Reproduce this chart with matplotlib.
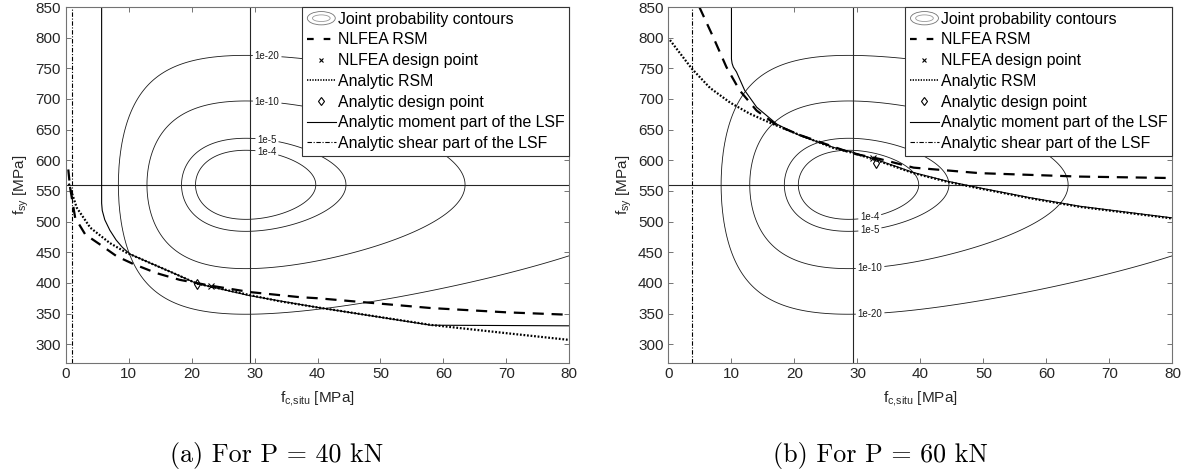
import matplotlib
matplotlib.use("Agg")
import matplotlib.pyplot as plt
import numpy as np
from matplotlib.legend_handler import HandlerBase
from matplotlib.lines import Line2D
from matplotlib.patches import Ellipse

plt.rcParams["font.family"] = ["Liberation Sans", "DejaVu Sans"]

# axis ticks
FC_TICKS = list(range(0, 81, 10))
FSY_TICKS = list(range(300, 851, 50))

# joint distribution of (f_c,situ, f_sy): lognormal x normal
FC_LOG_MEAN = 3.373
FC_LOG_STD = 0.138
FSY_MEAN = 560.0
FSY_STD = 23.7
FC_REF_LINE = 29.3
CONTOUR_LEVELS = [1e-20, 1e-10, 1e-5, 1e-4]
CONTOUR_TEXT = ["1e-20", "1e-10", "1e-5", "1e-4"]

# ---- (a) P = 40 kN
A_NLFEA_FC = [0.4, 0.7, 1.5, 3.1, 5.45, 8.1, 10.7, 14.4, 18.1, 23.0, 29.3, 37.2, 40, 58, 70, 80]
A_NLFEA_FSY = [585, 555, 506, 479, 462.6, 443.4, 431, 416, 405, 395.5, 385, 376.7, 375, 359, 352, 348]
A_ANA_FC = [0.5, 0.7, 1.75, 3.9, 7.0, 9.7, 13.4, 17.1, 20.8, 29.3, 34, 40, 58, 70, 80]
A_ANA_FSY = [562, 555, 522.6, 490, 465, 449, 432.5, 416, 399, 380, 370, 360, 331.5, 318, 307]
A_MOM_FC = [5.7, 5.7, 5.8, 6.2, 7.0, 8.0, 9.0, 10.2, 13.4, 17.1, 20.8, 29.3, 40, 58, 80]
A_MOM_FSY = [850, 530, 518, 503, 486, 470, 458, 447, 432.5, 416, 399, 379, 360, 331, 330]
A_SHEAR_FC = 1.05
A_NLFEA_DP = (23.0, 395.5)
A_ANA_DP = (20.8, 399)
A_LABEL_POS = [(32, 770), (32, 695), (32, 635), (32, 615)]

# ---- (b) P = 60 kN
B_NLFEA_FC = [4.9, 7.1, 9.2, 11.3, 14.0, 17.2, 20.9, 26.2, 29.3, 33.6, 38.9, 49.4, 65.3, 80]
B_NLFEA_FSY = [850, 801, 752, 714, 681, 657, 641, 622, 611, 602, 588, 579, 573.4, 571]
B_ANA_FC = [0.24, 3.7, 6.6, 9.8, 12.9, 16.6, 20.9, 26.2, 29.3, 33.6, 38.9, 44.2, 49.4, 57.4, 65.3, 80]
B_ANA_FSY = [796, 749.5, 718, 694, 676, 659, 641, 620, 612, 598, 579, 565, 554, 538, 524, 505]
B_MOM_FC = [10.0, 10.0, 10.1, 10.3, 10.8, 12.1, 14.0, 17.2, 20.9, 26.2, 29.3, 33.6, 38.9, 44.2, 49.4, 57.4, 65.3, 80]
B_MOM_FSY = [850, 765, 758, 752, 744, 714, 686.6, 659, 640, 621, 613, 599, 580, 566, 555, 539, 525, 506]
B_SHEAR_FC = 3.7
B_NLFEA_DP = (32.4, 604)
B_ANA_DP = (33.0, 595)
B_LABEL_POS = [(32, 352), (32, 425), (32, 485), (32, 505)]

CAPTIONS = ["(a) For P = 40 kN", "(b) For P = 60 kN"]


class ContourKey:
    pass


class ContourHandler(HandlerBase):
    def create_artists(self, legend, orig_handle, xdescent, ydescent, width, height, fontsize, trans):
        cx = width / 2 - xdescent
        cy = height / 2 - ydescent
        outer = Ellipse((cx, cy), width * 0.98, height * 1.2, fill=False, lw=0.6, ec="0.45", transform=trans)
        inner = Ellipse((cx, cy), width * 0.62, height * 0.6, fill=False, lw=0.6, ec="0.6", transform=trans)
        return [outer, inner]


def joint_pdf(fc, fsy):
    p_fc = np.exp(-(np.log(fc) - FC_LOG_MEAN) ** 2 / (2 * FC_LOG_STD ** 2)) / (fc * FC_LOG_STD * np.sqrt(2 * np.pi))
    p_fsy = np.exp(-(fsy - FSY_MEAN) ** 2 / (2 * FSY_STD ** 2)) / (FSY_STD * np.sqrt(2 * np.pi))
    return p_fc * p_fsy


def draw_panel(ax, nlfea, ana, mom, shear_fc, nlfea_dp, ana_dp, label_pos):
    fc = np.linspace(0.2, 80, 700)
    fsy = np.linspace(270, 850, 700)
    FC, FSY = np.meshgrid(fc, fsy)
    cs = ax.contour(FC, FSY, joint_pdf(FC, FSY), levels=CONTOUR_LEVELS, colors="0.1", linewidths=0.6)
    texts = ax.clabel(cs, fmt=dict(zip(CONTOUR_LEVELS, CONTOUR_TEXT)), manual=label_pos, inline=True,
                      inline_spacing=2, fontsize=7)
    for t in texts:
        t.set_rotation(0)

    ax.axvline(FC_REF_LINE, color="0.15", lw=0.8)
    ax.axhline(FSY_MEAN, color="0.15", lw=0.8)

    ax.plot(*nlfea, color="black", ls=(0, (5, 3.5)), lw=1.6)
    ax.plot(*nlfea_dp, ls="none", marker="x", ms=4, mew=0.8, color="black")
    ax.plot(*ana, color="black", ls=(0, (0.8, 0.8)), lw=1.6)
    ax.plot(*ana_dp, ls="none", marker="d", ms=5, mew=0.8, mfc="none", color="black")
    ax.plot(*mom, color="black", lw=0.8)
    ax.axvline(shear_fc, color="black", lw=0.8, ls=(0, (4, 1.5, 1, 1.5)))

    ax.set_xlim(0, 80)
    ax.set_ylim(270, 850)
    ax.set_xticks(FC_TICKS)
    ax.set_yticks(FSY_TICKS)
    ax.tick_params(direction="in", length=3.5, width=0.7, top=True, right=True,
                   colors="0.45", labelcolor="#262626", labelsize=11)
    for s in ax.spines.values():
        s.set_color("0.45")
        s.set_linewidth(0.8)
    ax.set_xlabel(r"f$_{\mathregular{c{,}situ}}$ [MPa]", fontsize=11, color="#262626", labelpad=6)
    ax.set_ylabel(r"f$_{\mathregular{sy}}$ [MPa]", fontsize=11, color="#262626", labelpad=3)

    handles = [
        ContourKey(),
        Line2D([], [], color="black", ls=(0, (3, 4.5)), lw=1.6),
        Line2D([], [], ls="none", marker="x", ms=3.5, mew=0.8, color="black"),
        Line2D([], [], color="black", ls=(0, (0.8, 0.8)), lw=1.2),
        Line2D([], [], ls="none", marker="d", ms=4.5, mew=0.8, mfc="none", color="black"),
        Line2D([], [], color="black", lw=0.8),
        Line2D([], [], color="black", lw=0.8, ls=(0, (4, 1.5, 1, 1.5))),
    ]
    labels = [
        "Joint probability contours",
        "NLFEA RSM",
        "NLFEA design point",
        "Analytic RSM",
        "Analytic design point",
        "Analytic moment part of the LSF",
        "Analytic shear part of the LSF",
    ]
    leg = ax.legend(handles, labels, handler_map={ContourKey: ContourHandler()}, loc="upper right",
                    borderaxespad=0, fontsize=11.4, labelspacing=0.36, handlelength=1.8,
                    handletextpad=0.15, borderpad=0.3, fancybox=False, framealpha=1, numpoints=1)
    leg.get_frame().set_edgecolor("0.2")
    leg.get_frame().set_linewidth(0.8)


def main():
    fig = plt.figure(figsize=(11.89, 4.73), dpi=100)
    ax_a = fig.add_axes([0.0553, 0.2334, 0.4235, 0.7518])
    ax_b = fig.add_axes([0.5622, 0.2334, 0.4239, 0.7518])

    draw_panel(ax_a, (A_NLFEA_FC, A_NLFEA_FSY), (A_ANA_FC, A_ANA_FSY), (A_MOM_FC, A_MOM_FSY),
               A_SHEAR_FC, A_NLFEA_DP, A_ANA_DP, A_LABEL_POS)
    draw_panel(ax_b, (B_NLFEA_FC, B_NLFEA_FSY), (B_ANA_FC, B_ANA_FSY), (B_MOM_FC, B_MOM_FSY),
               B_SHEAR_FC, B_NLFEA_DP, B_ANA_DP, B_LABEL_POS)

    fig.text(276.7 / 1189, 1 - 455 / 473, CAPTIONS[0], family="cmr10", fontsize=18.7, ha="center", va="center")
    fig.text(880 / 1189, 1 - 455 / 473, CAPTIONS[1], family="cmr10", fontsize=18.7, ha="center", va="center")

    fig.savefig("out.png", dpi=100)


if __name__ == "__main__":
    main()
